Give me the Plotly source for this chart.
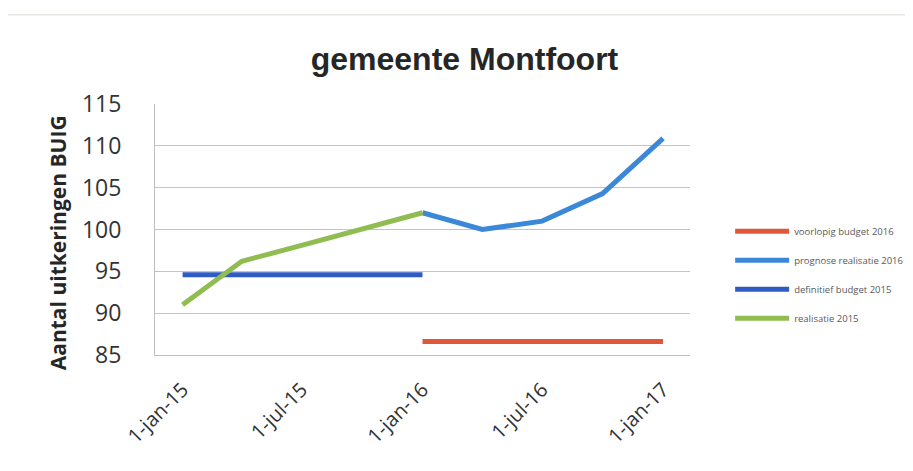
import plotly.graph_objects as go

# quarterly dates
dates_2015 = ["2015-01-01", "2015-04-01", "2015-07-01", "2015-10-01", "2016-01-01"]
dates_2016 = ["2016-01-01", "2016-04-01", "2016-07-01", "2016-10-01", "2017-01-01"]

realisatie_2015 = [91.0, 96.2, 98.1, 100.0, 102.0]
definitief_budget_2015 = [94.6, 94.6, 94.6, 94.6, 94.6]
prognose_realisatie_2016 = [102.0, 100.0, 101.0, 104.3, 110.9]
voorlopig_budget_2016 = [86.6, 86.6, 86.6, 86.6, 86.6]

tick_dates = ["2015-01-01", "2015-07-01", "2016-01-01", "2016-07-01", "2017-01-01"]
tick_labels = ["1-jan-15", "1-jul-15", "1-jan-16", "1-jul-16", "1-jan-17"]

ARIAL = "Liberation Sans, Arial, sans-serif"
CALIBRI = "Open Sans, Calibri, sans-serif"

fig = go.Figure()

series = [
    ("voorlopig budget 2016", dates_2016, voorlopig_budget_2016, "#E0583B", 1),
    ("prognose realisatie 2016", dates_2016, prognose_realisatie_2016, "#3B87D8", 2),
    ("definitief budget 2015", dates_2015, definitief_budget_2015, "#2F5CC4", 3),
    ("realisatie 2015", dates_2015, realisatie_2015, "#8FBD52", 4),
]

for name, x, y, color, rank in series:
    fig.add_trace(go.Scatter(
        name=name,
        x=x,
        y=y,
        mode="lines",
        line={"color": color, "width": 5},
        legendgroup=name,
        legendrank=rank,
    ))

fig.update_layout(
    width=913,
    height=471,
    paper_bgcolor="white",
    plot_bgcolor="white",
    margin={"l": 147, "r": 231, "t": 96, "b": 124},
    title={
        "text": "<b>gemeente Montfoort</b>",
        "x": 0.5,
        "xanchor": "center",
        "y": 0.893,
        "yanchor": "middle",
        "font": {"family": ARIAL, "size": 32, "color": "#262626"},
    },
    legend={
        "x": 1.075,
        "xanchor": "left",
        "y": 0.32,
        "yanchor": "middle",
        "font": {"family": CALIBRI, "size": 9.5, "color": "#595959"},
        "tracegroupgap": 10,
        "itemwidth": 54,
        "bgcolor": "rgba(0,0,0,0)",
    },
    showlegend=True,
)

fig.update_xaxes(
    type="date",
    range=["2014-11-20", "2017-02-11"],
    tickvals=tick_dates,
    ticktext=tick_labels,
    tickangle=-45,
    tickfont={"family": CALIBRI, "size": 20, "color": "#333333"},
    ticklabelstandoff=14,
    showgrid=False,
    showline=True,
    linecolor="#BFBFBF",
    linewidth=1,
    ticks="",
)

fig.update_yaxes(
    range=[85, 115],
    dtick=5,
    tickfont={"family": CALIBRI, "size": 23, "color": "#333333"},
    ticklabelstandoff=28,
    showgrid=True,
    gridcolor="#C4C4C4",
    gridwidth=1,
    showline=True,
    linecolor="#BFBFBF",
    zeroline=False,
)

# y axis title sits a little below the middle of the plot, as in the original
fig.add_annotation(
    text="<b>Aantal uitkeringen BUIG</b>",
    textangle=-90,
    xref="paper", yref="paper",
    x=-0.181, y=0.446,
    xanchor="center", yanchor="middle",
    showarrow=False,
    font={"family": CALIBRI, "size": 21, "color": "#262626"},
)

# faint frame line at the top of the picture
fig.add_shape(type="line", xref="paper", yref="paper",
              x0=-0.3, x1=1.42, y0=1.355, y1=1.355,
              line={"color": "#D5DDD0", "width": 1})

fig.write_html("out.html")
